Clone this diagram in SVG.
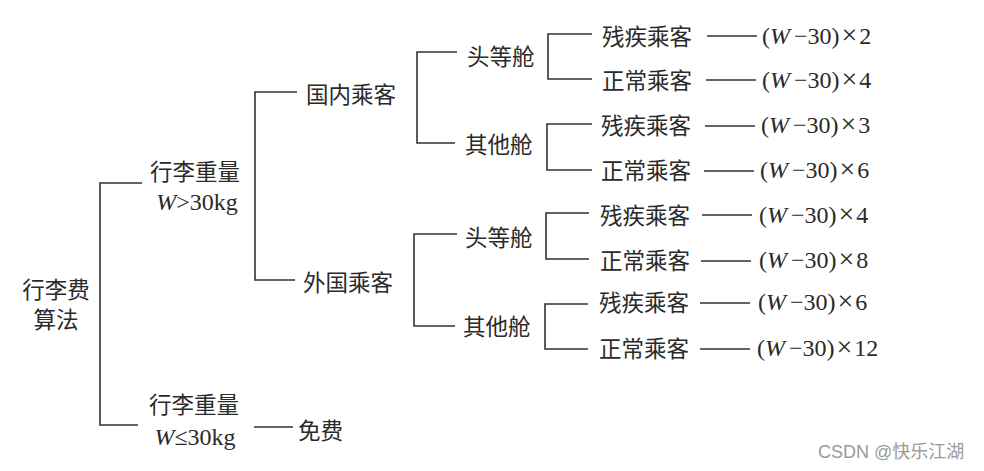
<svg xmlns="http://www.w3.org/2000/svg" width="984" height="471" viewBox="0 0 984 471">
<style>
.cn{font-family:"Noto Sans CJK SC","Noto Sans",sans-serif;font-size:22.5px;fill:#2a2a2a}
.f{font-family:"Liberation Serif","DejaVu Serif",serif;font-size:24px;fill:#2a2a2a}
.i{font-style:italic}
.x{font-size:28px}
.ln{stroke:#333;stroke-width:1.6;fill:none}
.wm{font-family:"Liberation Sans","Noto Sans CJK SC",sans-serif;font-size:18px;fill:#9a9a9a}
</style>
<rect width="984" height="471" fill="#fff"/>
<g id="connectors">
<path class="ln" d="M142,183 H100 V425 H138"/>
<path class="ln" d="M297,92 H255 V280 H295"/>
<path class="ln" d="M254,427 H293"/>
<path class="ln" d="M457,52 H417 V143 H455"/>
<path class="ln" d="M457,234 H414 V326 H455"/>
<path class="ln" d="M592,34 H548 V79 H592"/>
<path class="ln" d="M592,124 H547 V170 H592"/>
<path class="ln" d="M589,213 H546 V259 H589"/>
<path class="ln" d="M588,304 H545 V349 H588"/>
<path class="ln" d="M707,36 H757 M706,80 H756 M705,126 H755 M704,171 H754 M702,215 H752 M701,261 H751 M700,303 H750 M700,349 H750"/>
</g>
<g id="root"><text class="cn" x="56" y="298" text-anchor="middle">行李费</text><text class="cn" x="56" y="328" text-anchor="middle">算法</text></g>
<g id="heavy"><text class="cn" x="195" y="180" text-anchor="middle">行李重量</text><text class="f" x="197" y="210" text-anchor="middle"><tspan class="i">W</tspan>&gt;30kg</text></g>
<g id="light"><text class="cn" x="194" y="413" text-anchor="middle">行李重量</text><text class="f" x="195" y="445" text-anchor="middle"><tspan class="i">W</tspan>≤30kg</text></g>
<g id="free"><text class="cn" x="298" y="439">免费</text></g>
<g id="domestic"><text class="cn" x="306" y="103">国内乘客</text></g>
<g id="foreign"><text class="cn" x="303" y="291">外国乘客</text></g>
<g id="d-first"><text class="cn" x="467" y="65">头等舱</text></g>
<g id="d-other"><text class="cn" x="465" y="153">其他舱</text></g>
<g id="f-first"><text class="cn" x="465" y="246">头等舱</text></g>
<g id="f-other"><text class="cn" x="463" y="335">其他舱</text></g>
<g id="r1"><text class="cn" x="602" y="45">残疾乘客</text><text class="f" x="762" y="44">(<tspan class="i">W</tspan><tspan dx="4">−30)</tspan><tspan class="x" dx="2">×</tspan><tspan dx="2">2</tspan></text></g>
<g id="r2"><text class="cn" x="602" y="89">正常乘客</text><text class="f" x="762" y="88">(<tspan class="i">W</tspan><tspan dx="4">−30)</tspan><tspan class="x" dx="2">×</tspan><tspan dx="2">4</tspan></text></g>
<g id="r3"><text class="cn" x="601" y="134">残疾乘客</text><text class="f" x="761" y="133">(<tspan class="i">W</tspan><tspan dx="4">−30)</tspan><tspan class="x" dx="2">×</tspan><tspan dx="2">3</tspan></text></g>
<g id="r4"><text class="cn" x="601" y="179">正常乘客</text><text class="f" x="760" y="178">(<tspan class="i">W</tspan><tspan dx="4">−30)</tspan><tspan class="x" dx="2">×</tspan><tspan dx="2">6</tspan></text></g>
<g id="r5"><text class="cn" x="600" y="224">残疾乘客</text><text class="f" x="759" y="223">(<tspan class="i">W</tspan><tspan dx="4">−30)</tspan><tspan class="x" dx="2">×</tspan><tspan dx="2">4</tspan></text></g>
<g id="r6"><text class="cn" x="600" y="269">正常乘客</text><text class="f" x="759" y="268">(<tspan class="i">W</tspan><tspan dx="4">−30)</tspan><tspan class="x" dx="2">×</tspan><tspan dx="2">8</tspan></text></g>
<g id="r7"><text class="cn" x="599" y="311">残疾乘客</text><text class="f" x="758" y="310">(<tspan class="i">W</tspan><tspan dx="4">−30)</tspan><tspan class="x" dx="2">×</tspan><tspan dx="2">6</tspan></text></g>
<g id="r8"><text class="cn" x="599" y="357">正常乘客</text><text class="f" x="757" y="356">(<tspan class="i">W</tspan><tspan dx="4">−30)</tspan><tspan class="x" dx="2">×</tspan><tspan dx="2">12</tspan></text></g>
<text class="wm" x="818" y="458">CSDN @快乐江湖</text>
</svg>
